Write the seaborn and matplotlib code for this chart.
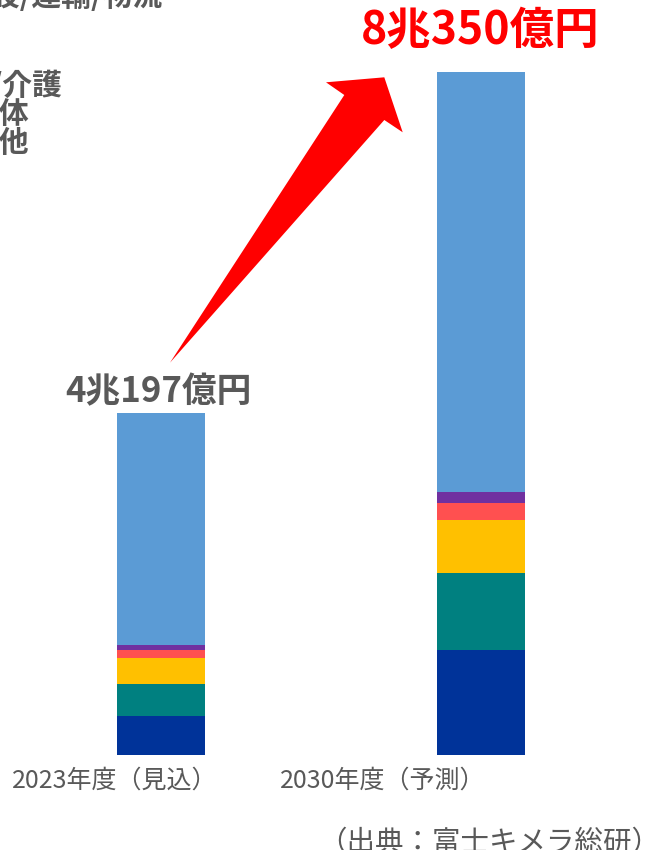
import matplotlib
matplotlib.use("Agg")
import matplotlib.pyplot as plt
from matplotlib.patches import Polygon
import numpy as np
import pandas as pd
import seaborn as sns

# ---- data (億円) ----
years = ["2023年度（見込）", "2030年度（予測）"]
segment_names = ["セグメントA", "セグメントB", "セグメントC", "セグメントD", "セグメントE", "セグメントF"]
seg_a = [4550, 12320]    # dark blue (bottom)
seg_b = [3830, 9090]     # teal
seg_c = [2985, 6235]     # yellow
seg_d = [1010, 2000]     # red
seg_e = [590, 1260]      # purple
seg_f = [27232, 49445]   # light blue (top)
totals = [40197, 80350]
total_labels = ["4兆197億円", "8兆350億円"]
legend_labels = ["建設/運輸/物流", "医療/介護", "自治体", "その他"]
source_text = "（出典：富士キメラ総研）"

colors = ["#003399", "#008080", "#FFC000", "#FF5050", "#7030A0", "#5B9BD5"]

sns.set_theme(style="white")
plt.rcParams["font.family"] = ["Noto Sans CJK JP", "DejaVu Sans"]

W, H = 650, 850
fig = plt.figure(figsize=(W / 100, H / 100), dpi=100)

# axes spans the full width; baseline sits at y=755 px
ax = fig.add_axes([0, (H - 755) / H, 1, 755 / H])
px_per_unit = 319.5

df = pd.DataFrame({
    "year": years,
    **{name: vals for name, vals in zip(segment_names, [seg_a, seg_b, seg_c, seg_d, seg_e, seg_f])},
})
cum = df[segment_names].cumsum(axis=1).assign(year=df["year"])

# stacked bars: draw cumulative totals from the top layer down
for name, col in reversed(list(zip(segment_names, colors))):
    sns.barplot(data=cum, x="year", y=name, color=col,
                saturation=1, width=88 / px_per_unit, errorbar=None, ax=ax,
                edgecolor="none", linewidth=0)

ax.set_xlim(-161 / px_per_unit, (W - 161) / px_per_unit)
ax.set_ylim(0, 755 / (755 - 72) * totals[1])
ax.set_axis_off()

# total labels above bars
ax.annotate(total_labels[0], xy=(0, totals[0]), xytext=(-3, 22), textcoords="offset pixels",
            ha="center", va="center", fontsize=25, fontweight="bold", color="#595959")
ax.annotate(total_labels[1], xy=(1, totals[1]), xytext=(0, 41), textcoords="offset pixels",
            ha="center", va="center", fontsize=32, fontweight="bold", color="#FF0000")

# category labels
fig.text(115 / W, 1 - 781 / H, years[0], ha="center", va="center", fontsize=18, color="#595959")
fig.text(383 / W, 1 - 781 / H, years[1], ha="center", va="center", fontsize=18, color="#595959")

# source
fig.text(660 / W, 1 - 843 / H, source_text, ha="right", va="center", fontsize=20.5, color="#595959")

# legend text (partly beyond the left edge)
legend_pos = [(163, -3), (63, 86), (29, 114), (29, 143)]
for lab, (x, y) in zip(legend_labels, legend_pos):
    fig.text(x / W, 1 - y / H, lab, ha="right", va="center", fontsize=21.5,
             fontweight="bold", color="#595959")

# growth arrow
arrow_px = np.array([(170, 362.7), (344.3, 95), (326, 82.3), (384.3, 77.3),
                     (402.7, 132.3), (384.3, 120)])
arrow_fig = np.column_stack([arrow_px[:, 0] / W, 1 - arrow_px[:, 1] / H])
fig.patches.append(Polygon(arrow_fig, closed=True, transform=fig.transFigure,
                           facecolor="#FF0000", edgecolor="none"))

fig.savefig("out.png", dpi=100, facecolor="white")
